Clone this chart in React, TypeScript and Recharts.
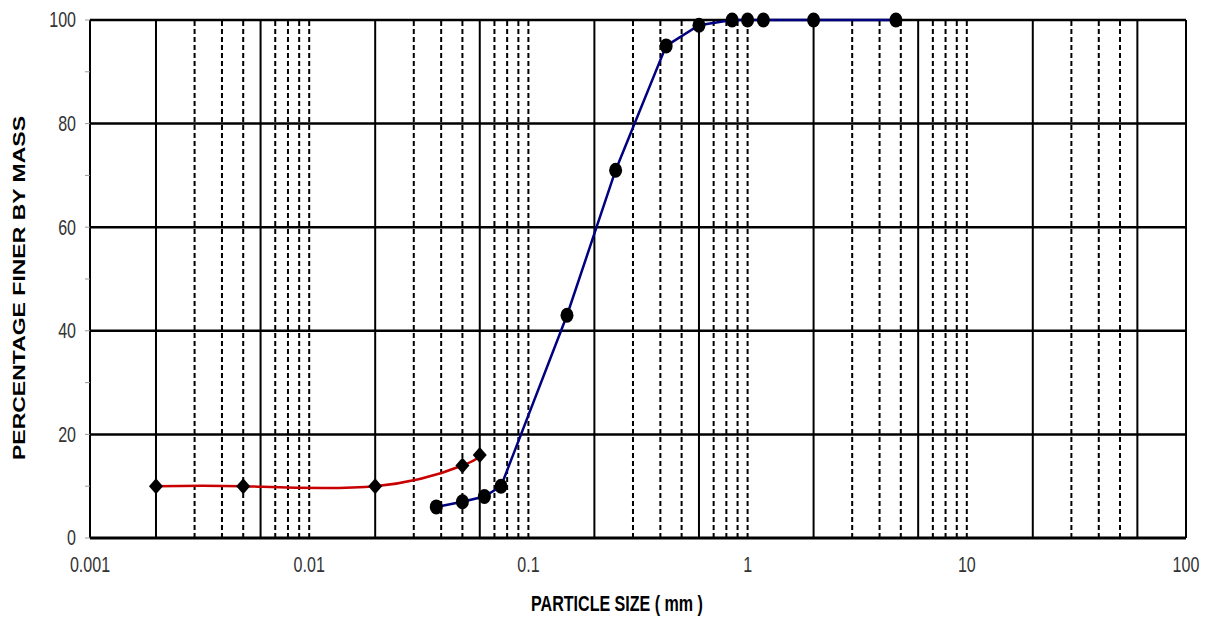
import { LineChart, Line, XAxis, YAxis, ReferenceLine, Label } from "recharts";

// particle size distribution data
const hydroSize = [0.002, 0.005, 0.02, 0.05, 0.06];
const hydroPct = [10, 10, 10, 14, 16];

const sieveSize = [0.038, 0.05, 0.063, 0.075, 0.15, 0.25, 0.425, 0.6, 0.85, 1.0, 1.18, 2.0, 4.75];
const sievePct = [6, 7, 8, 10, 43, 71, 95, 99, 100, 100, 100, 100, 100];

const xTicks = [0.001, 0.01, 0.1, 1, 10, 100];
const yTicks = [0, 10, 20, 30, 40, 50, 60, 70, 80, 90, 100];
const hLines = [20, 40, 60, 80, 100];
const solidLines = [0.002, 0.006, 0.02, 0.06, 0.2, 0.6, 2, 6, 20, 60, 100];
const dashedLines = [
  0.003, 0.004, 0.005, 0.007, 0.008, 0.009, 0.01,
  0.03, 0.04, 0.05, 0.07, 0.08, 0.09, 0.1,
  0.3, 0.4, 0.5, 0.7, 0.8, 0.9, 1,
  3, 4, 5, 7, 8, 9, 10,
  30, 40, 50,
];

const hydro = hydroSize.map((s, i) => ({ size: s, pct: hydroPct[i] }));
const sieve = sieveSize.map((s, i) => ({ size: s, pct: sievePct[i] }));

const FONT = "'Liberation Sans', Arial, sans-serif";

function XTick({ x, y, payload }: any) {
  return (
    <text
      transform={`translate(${x},${y + 27}) scale(0.73,1)`}
      textAnchor="middle"
      dominantBaseline="central"
      fontSize={22}
      fontFamily={FONT}
      fill="#333"
    >
      {payload.value}
    </text>
  );
}

function YTick({ x, y, payload }: any) {
  if (payload.value % 20 !== 0) return <g />;
  return (
    <text
      transform={`translate(${x - 7},${y}) scale(0.73,1)`}
      textAnchor="end"
      dominantBaseline="central"
      fontSize={22}
      fontFamily={FONT}
      fill="#333"
    >
      {payload.value}
    </text>
  );
}

function Diamond({ cx, cy }: any) {
  return <polygon points={`${cx},${cy - 8} ${cx + 7},${cy} ${cx},${cy + 8} ${cx - 7},${cy}`} fill="#000" />;
}

function Blob({ cx, cy }: any) {
  return <ellipse cx={cx} cy={cy} rx={6.5} ry={7.5} fill="#000" />;
}

export default function App() {
  return (
    <LineChart width={1204} height={613} margin={{ top: 12, right: 26, left: 0, bottom: 0 }}>
      <XAxis
        dataKey="size"
        type="number"
        scale="log"
        domain={[0.001, 100]}
        ticks={xTicks}
        tick={<XTick />}
        tickLine={false}
        tickSize={0}
        tickMargin={0}
        height={83}
        axisLine={{ stroke: "#000", strokeWidth: 3 }}
        interval={0}
      >
        <Label
          content={({ viewBox }: any) => (
            <text
              transform={`translate(${viewBox.x + viewBox.width / 2 - 21},${viewBox.y + 66}) scale(0.73,1)`}
              textAnchor="middle"
              dominantBaseline="central"
              fontSize={22}
              fontWeight="bold"
              fontFamily={FONT}
              fill="#000"
            >
              PARTICLE SIZE ( mm )
            </text>
          )}
        />
      </XAxis>
      <YAxis
        type="number"
        domain={[0, 100]}
        ticks={yTicks}
        tick={<YTick />}
        tickSize={5}
        tickMargin={2}
        tickLine={{ stroke: "#999", strokeWidth: 1 }}
        width={82}
        axisLine={{ stroke: "#000", strokeWidth: 2 }}
        interval={0}
      >
        <Label
          content={({ viewBox }: any) => (
            <text
              transform={`translate(11,${viewBox.y + viewBox.height / 2 + 9}) rotate(-90) scale(1,0.73)`}
              textAnchor="middle"
              dominantBaseline="central"
              fontSize={23}
              fontWeight="bold"
              fontFamily={FONT}
              fill="#000"
            >
              PERCENTAGE FINER BY MASS
            </text>
          )}
        />
      </YAxis>
      {hLines.map((v) => (
        <ReferenceLine key={`h${v}`} y={v} stroke="#000" strokeWidth={2.5} />
      ))}
      {solidLines.map((v) => (
        <ReferenceLine key={`s${v}`} x={v} stroke="#000" strokeWidth={2} />
      ))}
      {dashedLines.map((v) => (
        <ReferenceLine key={`d${v}`} x={v} stroke="#000" strokeWidth={2} strokeDasharray="5 3" />
      ))}
      <Line
        data={hydro}
        dataKey="pct"
        type="natural"
        stroke="#c80000"
        strokeWidth={2.5}
        dot={(p: any) => <Diamond key={`hd${p.index}`} cx={p.cx} cy={p.cy} />}
        activeDot={false}
        isAnimationActive={false}
      />
      <Line
        data={sieve}
        dataKey="pct"
        type="linear"
        stroke="#000080"
        strokeWidth={2.5}
        dot={(p: any) => <Blob key={`sd${p.index}`} cx={p.cx} cy={p.cy} />}
        activeDot={false}
        isAnimationActive={false}
      />
    </LineChart>
  );
}
